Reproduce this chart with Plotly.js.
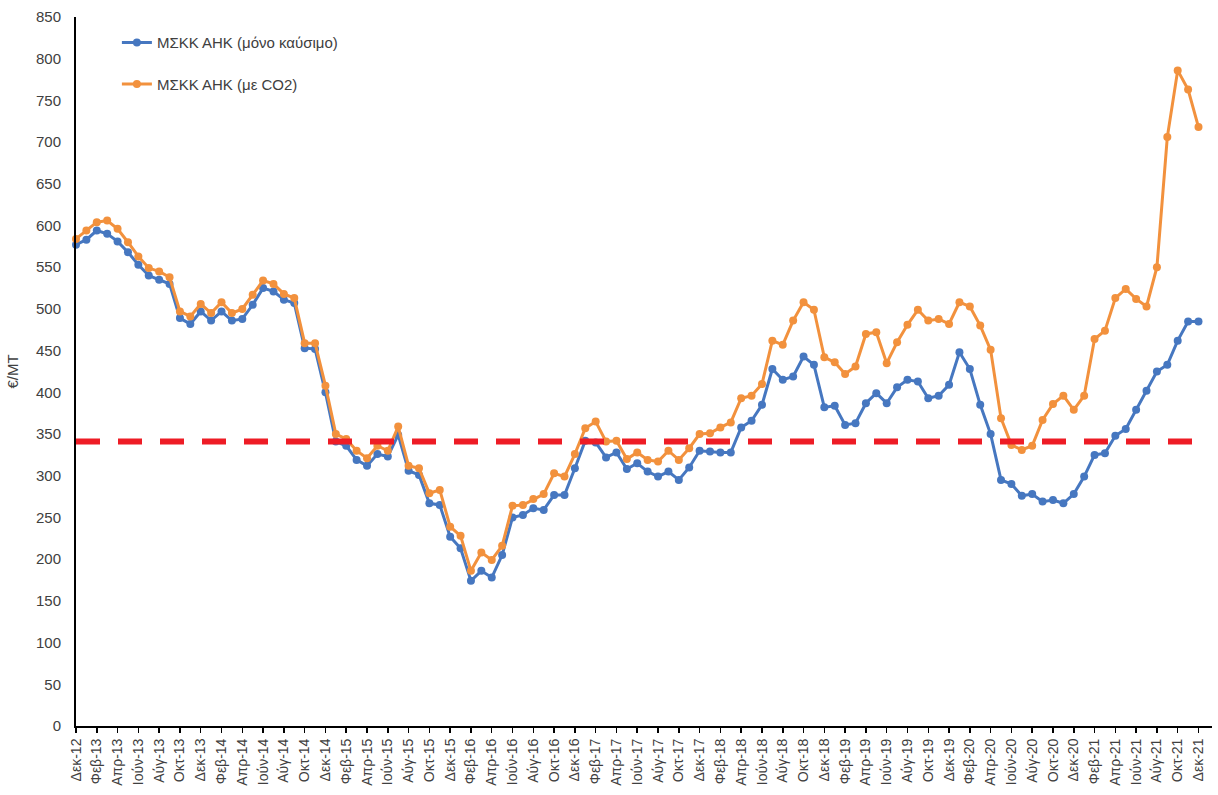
<!DOCTYPE html>
<html>
<head>
<meta charset="utf-8">
<script src="https://cdn.plot.ly/plotly-3.0.1.min.js"></script>
<style>
  html, body { margin: 0; padding: 0; background: #ffffff; }
  #chart { width: 1218px; height: 795px; }
</style>
</head>
<body>
<div id="chart"></div>
<script>
// Month categories (Dec-12 .. Dec-21)
const months = [
  "Δεκ-12",
  "Ιαν-13","Φεβ-13","Μαρ-13","Απρ-13","Μάι-13","Ιούν-13","Ιούλ-13","Αύγ-13","Σεπ-13","Οκτ-13","Νοε-13","Δεκ-13",
  "Ιαν-14","Φεβ-14","Μαρ-14","Απρ-14","Μάι-14","Ιούν-14","Ιούλ-14","Αύγ-14","Σεπ-14","Οκτ-14","Νοε-14","Δεκ-14",
  "Ιαν-15","Φεβ-15","Μαρ-15","Απρ-15","Μάι-15","Ιούν-15","Ιούλ-15","Αύγ-15","Σεπ-15","Οκτ-15","Νοε-15","Δεκ-15",
  "Ιαν-16","Φεβ-16","Μαρ-16","Απρ-16","Μάι-16","Ιούν-16","Ιούλ-16","Αύγ-16","Σεπ-16","Οκτ-16","Νοε-16","Δεκ-16",
  "Ιαν-17","Φεβ-17","Μαρ-17","Απρ-17","Μάι-17","Ιούν-17","Ιούλ-17","Αύγ-17","Σεπ-17","Οκτ-17","Νοε-17","Δεκ-17",
  "Ιαν-18","Φεβ-18","Μαρ-18","Απρ-18","Μάι-18","Ιούν-18","Ιούλ-18","Αύγ-18","Σεπ-18","Οκτ-18","Νοε-18","Δεκ-18",
  "Ιαν-19","Φεβ-19","Μαρ-19","Απρ-19","Μάι-19","Ιούν-19","Ιούλ-19","Αύγ-19","Σεπ-19","Οκτ-19","Νοε-19","Δεκ-19",
  "Ιαν-20","Φεβ-20","Μαρ-20","Απρ-20","Μάι-20","Ιούν-20","Ιούλ-20","Αύγ-20","Σεπ-20","Οκτ-20","Νοε-20","Δεκ-20",
  "Ιαν-21","Φεβ-21","Μαρ-21","Απρ-21","Μάι-21","Ιούν-21","Ιούλ-21","Αύγ-21","Σεπ-21","Οκτ-21","Νοε-21","Δεκ-21"
];

// Tick labels shown (every second month)
const tickLabels = [
  "Δεκ-12","Φεβ-13","Απρ-13","Ιούν-13","Αύγ-13","Οκτ-13","Δεκ-13",
  "Φεβ-14","Απρ-14","Ιούν-14","Αύγ-14","Οκτ-14","Δεκ-14",
  "Φεβ-15","Απρ-15","Ιούν-15","Αύγ-15","Οκτ-15","Δεκ-15",
  "Φεβ-16","Απρ-16","Ιούν-16","Αύγ-16","Οκτ-16","Δεκ-16",
  "Φεβ-17","Απρ-17","Ιούν-17","Αύγ-17","Οκτ-17","Δεκ-17",
  "Φεβ-18","Απρ-18","Ιούν-18","Αύγ-18","Οκτ-18","Δεκ-18",
  "Φεβ-19","Απρ-19","Ιούν-19","Αύγ-19","Οκτ-19","Δεκ-19",
  "Φεβ-20","Απρ-20","Ιούν-20","Αύγ-20","Οκτ-20","Δεκ-20",
  "Φεβ-21","Απρ-21","Ιούν-21","Αύγ-21","Οκτ-21","Δεκ-21"
];

// ΜΣΚΚ ΑΗΚ (μόνο καύσιμο) – €/MT
const fuelOnly = [
  577, 583, 594, 590, 581, 568, 553, 540, 535, 530,
  489, 482, 497, 486, 497, 486, 488, 505, 525, 521,
  511, 507, 453, 452, 400, 341, 336, 319, 312, 326,
  323, 349, 306, 301, 267, 265, 227, 213, 174, 186,
  178, 205, 250, 253, 261, 259, 277, 277, 309, 342,
  340, 322, 328, 308, 315, 305, 299, 305, 295, 310,
  330, 329, 328, 328, 358, 366, 385, 428, 415, 419,
  443, 433, 382, 384, 361, 363, 387, 399, 387, 406,
  415, 413, 393, 396, 409, 448, 428, 385, 350, 295,
  290, 276, 278, 269, 271, 267, 278, 299, 325, 327,
  348, 356, 379, 402, 425, 433, 462, 485, 485
];

// ΜΣΚΚ ΑΗΚ (με CO2) – €/MT
const withCO2 = [
  584, 594, 604, 606, 596, 580, 563, 549, 545, 538,
  497, 491, 506, 495, 508, 495, 500, 517, 534, 530,
  518, 513, 459, 459, 408, 350, 344, 330, 321, 336,
  330, 359, 312, 309, 279, 283, 239, 228, 186, 208,
  199, 216, 264, 265, 272, 278, 303, 299, 326, 357,
  365, 341, 342, 320, 328, 319, 317, 330, 319, 333,
  350, 351, 358, 364, 393, 396, 410, 462, 457, 486,
  508, 499, 442, 436, 422, 431, 470, 472, 435, 460,
  481, 499, 486, 488, 482, 508, 503, 480, 451, 369,
  337, 331, 336, 367, 386, 396, 379, 396, 464, 474,
  513, 524, 512, 503, 550, 706, 786, 763, 718
];

// Reference level (red dashed line)
const thresholdValue = 341;

const seriesNames = ["ΜΣΚΚ ΑΗΚ (μόνο καύσιμο)", "ΜΣΚΚ ΑΗΚ (με CO2)"];

const FONT = "Arial, 'Liberation Sans', sans-serif";
const TXT = "#404040";

const traces = [
  {
    x: months, y: fuelOnly, name: seriesNames[0], type: "scatter", mode: "lines+markers",
    line: { color: "#4677C0", width: 3 },
    marker: { color: "#4677C0", size: 8 },
    cliponaxis: false, legendgroup: "a"
  },
  {
    x: months, y: withCO2, name: seriesNames[1], type: "scatter", mode: "lines+markers",
    line: { color: "#F2913D", width: 3 },
    marker: { color: "#F2913D", size: 8 },
    cliponaxis: false, legendgroup: "b"
  },
  {
    x: [months[0], months[months.length - 1]], y: [thresholdValue, thresholdValue],
    type: "scatter", mode: "lines", showlegend: false, hoverinfo: "skip",
    line: { color: "#EE1C25", width: 6, dash: "24px,18px" },
    cliponaxis: false
  }
];

const layout = {
  width: 1218, height: 795,
  margin: { l: 76, r: 6, t: 17, b: 69 },
  paper_bgcolor: "#ffffff", plot_bgcolor: "#ffffff",
  font: { family: FONT, color: TXT, size: 14 },
  showlegend: true,
  legend: {
    x: 0.036, y: 0.987, xanchor: "left", yanchor: "top",
    bgcolor: "rgba(0,0,0,0)", font: { family: FONT, size: 15, color: TXT },
    tracegroupgap: 19, itemwidth: 30
  },
  xaxis: {
    type: "category",
    range: [0, 109.3],
    tickmode: "array", tickvals: tickLabels, ticktext: tickLabels,
    tickangle: -90,
    ticks: "outside", ticklen: 5, tickwidth: 1.5, tickcolor: "#000000",
    showline: true, linecolor: "#000000", linewidth: 2,
    showgrid: false, zeroline: false,
    tickfont: { family: FONT, size: 14, color: TXT }
  },
  yaxis: {
    range: [0, 850], dtick: 50, tick0: 0,
    showline: true, linecolor: "#000000", linewidth: 2,
    showgrid: false, zeroline: false, ticks: "",
    ticklabelstandoff: 10,
    tickfont: { family: FONT, size: 15, color: TXT },
    title: { text: "€/MT", font: { family: FONT, size: 15, color: TXT }, standoff: 14 }
  }
};

Plotly.newPlot("chart", traces, layout, { displayModeBar: false, staticPlot: true });
</script>
</body>
</html>
